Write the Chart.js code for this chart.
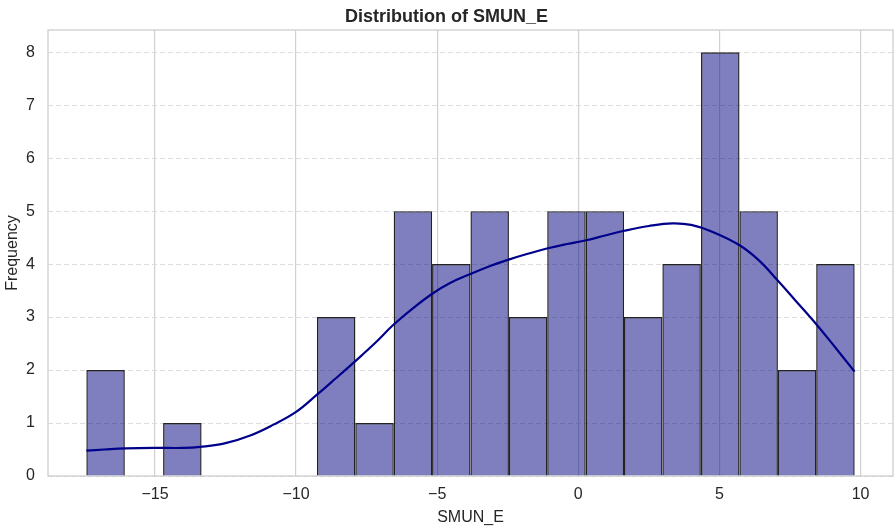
<!DOCTYPE html>
<html>
<head>
<meta charset="utf-8">
<title>Distribution of SMUN_E</title>
<script src="https://cdn.jsdelivr.net/npm/chart.js@4.4.1/dist/chart.umd.min.js"></script>
<style>
  html, body { margin: 0; padding: 0; background: #fff; }
  canvas { display: block; }
</style>
</head>
<body>
<canvas id="histChart" width="895" height="529"></canvas>
<script>
// histogram bins (centres) and counts
const binCenters = [-16.75, -15.39, -14.03, -12.67, -11.31, -9.94, -8.58, -7.22, -5.86, -4.50,
                    -3.14, -1.78, -0.42, 0.94, 2.30, 3.66, 5.03, 6.39, 7.75, 9.11];
const binCounts = [2, 0, 1, 0, 0, 0, 3, 1, 5, 4,
                   5, 3, 5, 5, 3, 4, 8, 5, 2, 4];

// kde curve
const kdeX = [-17.43, -16.8, -16.05, -15, -14, -13.4, -12.5, -11.6, -10.8, -10, -9.27, -8.6,
              -7.92, -7.2, -6.56, -5.85, -5.15, -4.56, -3.8, -3.1, -2.44, -1.76, -1.08, -0.4,
              0.28, 0.95, 1.63, 2.5, 3.34, 4.0, 4.7, 5.7, 6.4, 7.05, 7.7, 8.41, 9.1, 9.79];
const kdeY = [0.48, 0.50, 0.52, 0.53, 0.53, 0.55, 0.62, 0.77, 0.97, 1.21, 1.53, 1.84,
              2.16, 2.51, 2.85, 3.17, 3.45, 3.64, 3.82, 3.97, 4.09, 4.20, 4.30, 4.38,
              4.45, 4.54, 4.63, 4.72, 4.77, 4.74, 4.62, 4.36, 4.07, 3.70, 3.31, 2.88, 2.43, 1.97];

const xTicks = [-15, -10, -5, 0, 5, 10];
const yTicks = [0, 1, 2, 3, 4, 5, 6, 7, 8];

const textColor = '#262626';
const fontFamily = '"Liberation Sans", Arial, Helvetica, sans-serif';

// light frame round the plot area (seaborn whitegrid look)
const frame = {
  id: 'frame',
  beforeDatasetsDraw(chart) {
    const { ctx, chartArea: a } = chart;
    ctx.save();
    ctx.strokeStyle = '#cccccc';
    ctx.lineWidth = 1.25;
    ctx.strokeRect(a.left, a.top, a.right - a.left, a.bottom - a.top);
    ctx.restore();
  }
};

function minusSign(v) {
  return v < 0 ? '\u2212' + Math.abs(v) : String(v);
}

const ctx = document.getElementById('histChart').getContext('2d');
new Chart(ctx, {
  type: 'bar',
  data: {
    datasets: [
      {
        type: 'line',
        order: 0,
        data: kdeX.map((x, i) => ({ x: x, y: kdeY[i] })),
        borderColor: '#00008b',
        borderWidth: 2.2,
        pointRadius: 0,
        tension: 0.4,
        fill: false
      },
      {
        type: 'bar',
        order: 1,
        data: binCenters.map((x, i) => ({ x: x, y: binCounts[i] })),
        backgroundColor: 'rgba(0, 0, 128, 0.5)',
        borderColor: '#222222',
        borderWidth: 1.4,
        barPercentage: 1.003,
        categoryPercentage: 1,
        grouped: false
      }
    ]
  },
  plugins: [frame],
  options: {
    responsive: false,
    animation: false,
    layout: { padding: { right: 2 } },
    plugins: {
      legend: { display: false },
      tooltip: { enabled: false },
      title: {
        display: true,
        text: 'Distribution of SMUN_E',
        color: textColor,
        font: { family: fontFamily, size: 18, weight: 'bold' },
        padding: { top: 6, bottom: 2.4 }
      }
    },
    scales: {
      x: {
        type: 'linear',
        min: -18.79,
        max: 11.15,
        offset: false,
        afterBuildTicks: s => { s.ticks = xTicks.map(v => ({ value: v })); },
        afterFit: s => { s.height = 53; },
        ticks: {
          color: textColor,
          font: { family: fontFamily, size: 16 },
          padding: 9,
          maxRotation: 0,
          callback: v => minusSign(v)
        },
        grid: { color: '#d0d0d0', lineWidth: 1.2, drawTicks: false, offset: false },
        border: { display: false },
        title: {
          display: true,
          text: 'SMUN_E',
          color: textColor,
          font: { family: fontFamily, size: 16 },
          padding: { top: 0, bottom: 2 }
        }
      },
      y: {
        min: 0,
        max: 8.42,
        afterBuildTicks: s => { s.ticks = yTicks.map(v => ({ value: v })); },
        afterFit: s => { s.width = 48; },
        ticks: {
          color: textColor,
          font: { family: fontFamily, size: 16 },
          padding: 13
        },
        grid: { color: '#dcdcdc', lineWidth: 1, drawTicks: false },
        border: { display: false, dash: [5, 3] },
        title: {
          display: true,
          text: 'Frequency',
          color: textColor,
          font: { family: fontFamily, size: 16 },
          padding: { top: 3, bottom: 0 }
        }
      }
    }
  }
});
</script>
</body>
</html>
